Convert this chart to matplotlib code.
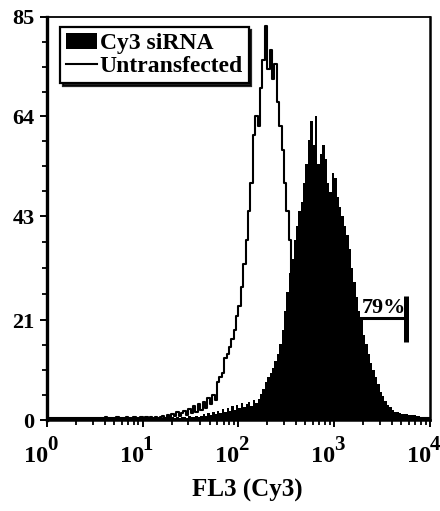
import numpy as np
import matplotlib
matplotlib.use("Agg")
import matplotlib.pyplot as plt
import matplotlib.transforms as mtransforms
from matplotlib.ticker import FixedLocator, NullFormatter

plt.rcParams["font.family"] = ["Liberation Serif", "DejaVu Serif"]
plt.rcParams["font.weight"] = "bold"

# 160 log-spaced channels from 10^0 to 10^4 (0.025 decade each)
n_channels = 160

untransfected = [
    0.5, 0.4, 0.5, 0.4, 0.5, 0.5, 0.4, 0.5, 0.4, 0.5, 0.5, 0.4, 0.5, 0.5, 0.4, 0.5, 0.4, 0.5, 0.5, 0.4,
    0.5, 0.4, 0.5, 0.5, 0.6, 0.4, 0.5, 0.5, 0.4, 0.6, 0.5, 0.4, 0.5, 0.6, 0.5, 0.4, 0.6, 0.5, 0.5, 0.6,
    0.5, 0.6, 0.4, 0.6, 0.5, 0.7, 0.5, 0.6, 0.8, 0.5, 1.0, 0.6, 1.2, 0.8, 1.6, 0.9, 1.4, 2.0, 1.1, 2.4,
    1.5, 2.9, 1.8, 3.4, 2.2, 3.9, 2.6, 4.6, 3.3, 5.3, 4.2, 8.0, 9.0, 10.0, 13.0, 14.0, 15.5, 17.0, 19.0, 22.0,
    24.0, 28.0, 33.0, 38.0, 44.0, 50.0, 60.0, 64.0, 62.0, 70.0, 76.0, 83.0, 74.0, 78.0, 72.0, 75.0, 67.0, 62.0, 57.0, 50.0,
    44.0, 38.0, 30.0, 22.0, 17.0, 12.0, 9.0, 6.0, 4.5, 3.0, 2.0, 1.5, 1.2, 1.0, 0.8, 0.7, 0.6, 0.5, 0.5, 0.4,
    0.4, 0.5, 0.4, 0.4, 0.5, 0.4, 0.4, 0.5, 0.4, 0.4, 0.5, 0.4, 0.4, 0.5, 0.4, 0.4, 0.5, 0.4, 0.4, 0.5,
    0.4, 0.4, 0.5, 0.4, 0.4, 0.5, 0.4, 0.4, 0.5, 0.4, 0.4, 0.5, 0.4, 0.4, 0.5, 0.4, 0.4, 0.5, 0.4, 0.4,
]

cy3_sirna = [
    0.5, 0.5, 0.4, 0.5, 0.5, 0.4, 0.5, 0.5, 0.4, 0.5, 0.5, 0.4, 0.5, 0.5, 0.4, 0.5, 0.5, 0.4, 0.5, 0.5,
    0.4, 0.5, 0.5, 0.4, 0.5, 0.5, 0.4, 0.5, 0.5, 0.4, 0.5, 0.5, 0.4, 0.5, 0.5, 0.4, 0.5, 0.5, 0.4, 0.5,
    0.5, 0.4, 0.5, 0.5, 0.4, 0.5, 0.5, 0.4, 0.5, 0.5, 0.6, 0.5, 0.6, 0.5, 0.7, 0.5, 0.6, 0.7, 0.5, 0.8,
    0.6, 0.7, 0.9, 0.6, 0.8, 1.2, 0.9, 1.5, 1.1, 1.8, 1.3, 2.0, 1.5, 2.3, 1.7, 2.6, 2.0, 2.9, 2.2, 3.2,
    2.5, 3.6, 2.8, 3.3, 3.9, 3.0, 4.2, 3.6, 4.5, 5.5, 6.5, 8.0, 9.0, 10.0, 11.0, 12.5, 14.0, 16.0, 19.0, 23.0,
    27.0, 31.0, 34.0, 38.0, 41.0, 44.0, 46.0, 50.0, 54.0, 59.0, 63.0, 58.0, 64.0, 54.0, 56.0, 58.0, 55.0, 50.0, 48.0, 52.0,
    51.0, 47.0, 45.0, 43.0, 41.0, 39.0, 36.0, 32.0, 29.0, 26.0, 23.0, 21.0, 18.0, 16.0, 14.0, 12.0, 10.5, 9.0, 7.5, 6.0,
    5.0, 4.0, 3.2, 2.7, 2.2, 1.8, 1.6, 1.4, 1.3, 1.2, 1.3, 1.1, 1.0, 1.0, 0.9, 0.8, 0.7, 0.6, 0.5, 0.4,
]

y_major = [0, 21, 43, 64, 85]
x_major = [1, 10, 100, 1000, 10000]
x_exponents = ["0", "1", "2", "3", "4"]

# gate marker
gate_lo, gate_hi, gate_level = 1800, 5650, 21.5
gate_label = "79%"
gate_label_x = 1930

edges = np.logspace(0, 4, n_channels + 1)
assert len(untransfected) == n_channels and len(cy3_sirna) == n_channels

fig = plt.figure(figsize=(4.40, 5.11), dpi=100)
ax = fig.add_axes([0.107, 0.178, 0.870, 0.789])

cy3_vals = np.append(cy3_sirna, cy3_sirna[-1])
un_vals = np.append(untransfected, untransfected[-1])
ax.fill_between(edges, 0, cy3_vals, step="post", color="black", lw=0,
                label="Cy3 siRNA")
ax.step(edges, un_vals, where="post", color="black", lw=1.5,
        label="Untransfected")

# 79% gate
ax.plot([gate_lo, gate_hi], [gate_level, gate_level], color="black", lw=2.2,
        solid_capstyle="butt", zorder=4)
ax.plot([gate_hi, gate_hi], [gate_level - 5, gate_level + 4.6], color="black",
        lw=3.6, solid_capstyle="butt", zorder=4)
ax.text(gate_label_x, gate_level + 1.0, gate_label, fontsize=16,
        fontweight="bold", ha="left", va="baseline", zorder=3,
        bbox=dict(facecolor="white", edgecolor="none", pad=0.3))

ax.set_xscale("log")
ax.set_xlim(1, 10000)
ax.set_ylim(0, 85)

# x ticks: "10" left of the tick, exponent raised just right of it
ax.set_xticks(x_major)
ax.set_xticklabels([])
ax.xaxis.set_minor_locator(FixedLocator(
    [m * 10 ** d for d in range(4) for m in range(2, 10)]))
ax.xaxis.set_minor_formatter(NullFormatter())
base = mtransforms.blended_transform_factory(ax.transData, ax.transAxes)
for xv, ex in zip(x_major, x_exponents):
    ax.text(xv, 0, "10", fontsize=17.5, fontweight="bold", ha="right",
            va="baseline", clip_on=False,
            transform=mtransforms.offset_copy(base, fig=fig, x=1, y=-42,
                                              units="dots"))
    ax.text(xv, 0, ex, fontsize=15, fontweight="bold", ha="left",
            va="baseline", clip_on=False,
            transform=mtransforms.offset_copy(base, fig=fig, x=0, y=-30,
                                              units="dots"))

ax.set_yticks(y_major)
ax.set_yticklabels([str(v) for v in y_major], fontsize=16, fontweight="bold")
y_minor = []
for a, b in zip(y_major[:-1], y_major[1:]):
    y_minor += list(np.linspace(a, b, 5)[1:-1])
ax.yaxis.set_minor_locator(FixedLocator(y_minor))

ax.tick_params(axis="both", which="major", direction="out", length=5,
               width=1.4, color="black")
ax.tick_params(axis="both", which="minor", direction="out", length=3.5,
               width=1.3, color="black")
ax.tick_params(axis="y", which="major", pad=4)

ax.spines["left"].set_linewidth(2.4)
ax.spines["bottom"].set_linewidth(1.8)
ax.spines["top"].set_linewidth(1.3)
ax.spines["right"].set_linewidth(1.8)

fig.text(247 / 440, 14 / 511, "FL3 (Cy3)", fontsize=18, fontweight="bold",
         ha="center", va="baseline")

leg = ax.legend(loc="upper left", bbox_to_anchor=(0.034, 0.975),
                fancybox=False, shadow={"color": "black", "alpha": 0.85},
                edgecolor="black", framealpha=1,
                prop={"weight": "bold", "size": 17},
                handlelength=1.3, handletextpad=0.12, borderpad=0.25,
                labelspacing=0.05, borderaxespad=0)
leg.get_frame().set_linewidth(1.6)

fig.savefig("out.png", dpi=100)
